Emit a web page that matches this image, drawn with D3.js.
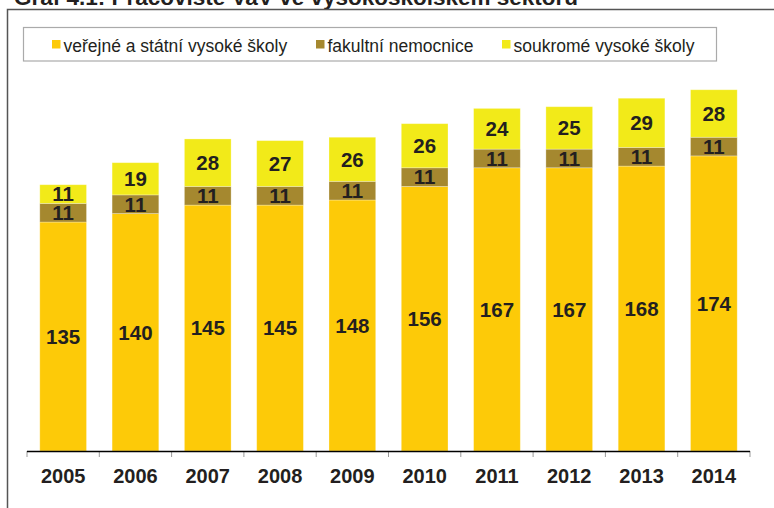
<!DOCTYPE html>
<html>
<head>
<meta charset="utf-8">
<script src="https://cdn.jsdelivr.net/npm/d3@7"></script>
<style>
  body { margin: 0; background: #fff; }
  svg { display: block; font-family: "Liberation Sans", Arial, sans-serif; }
</style>
</head>
<body>
<svg id="chart" width="774" height="508"></svg>
<script>
// data
const years = ["2005","2006","2007","2008","2009","2010","2011","2012","2013","2014"];
const verejne = [135,140,145,145,148,156,167,167,168,174];
const fakultni = [11,11,11,11,11,11,11,11,11,11];
const soukrome = [11,19,28,27,26,26,24,25,29,28];
const seriesNames = ["veřejné a státní vysoké školy","fakultní nemocnice","soukromé vysoké školy"];
const colors = ["#fdca08","#a5882f","#f2ea19"];

const svg = d3.select("#chart");
const textColor = "#231f20";

//title, cut at the top like the original
svg.append("text")
  .attr("x", 14).attr("y", 4.5)
  .attr("font-size", 22.5).attr("font-weight", "bold")
  .attr("fill", textColor)
  .text("Graf 4.1: Pracoviště VaV ve vysokoškolském sektoru");

//outer frame (top + left edges only visible)
svg.append("path")
  .attr("d", "M7.5 508 L7.5 9.5 L774 9.5")
  .attr("fill", "none").attr("stroke", "#555").attr("stroke-width", 1.5);

//legend box
svg.append("rect")
  .attr("x", 23.5).attr("y", 27.5).attr("width", 693).attr("height", 33.5)
  .attr("fill", "#fff").attr("stroke", "#aaa").attr("stroke-width", 1.2);

const legendX = [52, 316, 502];
seriesNames.forEach(function(name, i) {
  svg.append("rect")
    .attr("x", legendX[i]).attr("y", 40).attr("width", 8.5).attr("height", 8.5)
    .attr("fill", colors[i]);
  svg.append("text")
    .attr("x", legendX[i] + 11.5).attr("y", 51.5)
    .attr("font-size", 17.5).attr("fill", textColor)
    .text(name);
});

//scales
const x = d3.scaleBand()
  .domain(years)
  .range([27, 750])
  .paddingInner(0.354)
  .paddingOuter(0.177);

const y = d3.scaleLinear()
  .domain([0, 250])
  .range([451, 27]);

//stack the three series
const rows = years.map(function(yr, i) {
  return {year: yr, s0: verejne[i], s1: fakultni[i], s2: soukrome[i]};
});
const stack = d3.stack().keys(["s0","s1","s2"]);
const layers = stack(rows);

const g = svg.append("g");
layers.forEach(function(layer, li) {
  const grp = g.append("g");
  grp.selectAll("rect")
    .data(layer)
    .join("rect")
    .attr("x", d => x(d.data.year))
    .attr("width", x.bandwidth())
    .attr("y", d => y(d[1]))
    .attr("height", d => y(d[0]) - y(d[1]))
    .attr("fill", colors[li])
    .attr("stroke", "rgba(255,255,255,0.35)")
    .attr("stroke-width", 0.8);

  grp.selectAll("text")
    .data(layer)
    .join("text")
    .attr("x", d => x(d.data.year) + x.bandwidth()/2)
    .attr("y", d => (y(d[0]) + y(d[1]))/2)
    .attr("dy", "0.36em")
    .attr("text-anchor", "middle")
    .attr("font-size", 20.5).attr("font-weight", "bold")
    .attr("fill", textColor)
    .text(d => d[1] - d[0]);
});

//x axis: labels through d3.axisBottom, boundary ticks drawn separately
const axis = svg.append("g")
  .attr("transform", "translate(0,451)")
  .call(d3.axisBottom(x).tickSize(0).tickPadding(18));
axis.select(".domain").remove();
axis.selectAll("text")
  .attr("font-size", 20).attr("font-weight", "bold")
  .attr("fill", textColor)
  .attr("font-family", "Liberation Sans, Arial, sans-serif");

const bounds = d3.range(years.length + 1).map(i => x.range()[0] + i*x.step());
svg.append("g").selectAll("line")
  .data(bounds)
  .join("line")
  .attr("x1", d => d).attr("x2", d => d)
  .attr("y1", 451).attr("y2", 457)
  .attr("stroke", "#999").attr("stroke-width", 1);

svg.append("line")
  .attr("x1", 27).attr("x2", 750)
  .attr("y1", 451.5).attr("y2", 451.5)
  .attr("stroke", "#000").attr("stroke-width", 1.3);
</script>
</body>
</html>
